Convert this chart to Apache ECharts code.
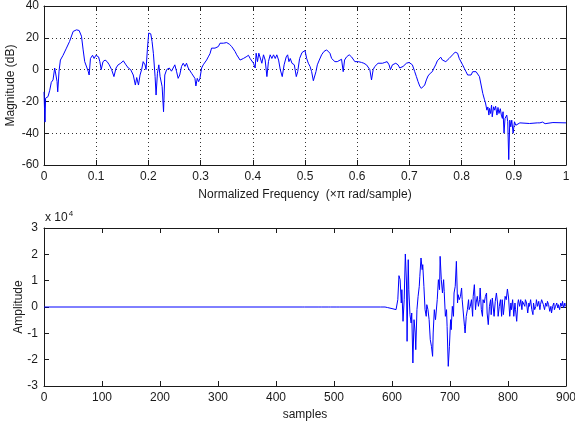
<!DOCTYPE html>
<html>
<head>
<meta charset="utf-8">
<script src="https://cdn.jsdelivr.net/npm/echarts@6/dist/echarts.min.js"></script>
<style>
  html, body { margin: 0; padding: 0; background: #fff; }
  #chart { width: 575px; height: 424px; }
</style>
</head>
<body>
<div id="chart"></div>
<script>
// top plot: magnitude response
const freq = [
  0, 0.001, 0.002, 0.003, 0.0045, 0.0077, 0.011, 0.014, 0.0173, 0.0205, 0.0224, 0.025, 0.0263, 0.0288,
  0.0314, 0.0365, 0.043, 0.049, 0.0558, 0.0622, 0.0673, 0.0718, 0.075, 0.078, 0.0814, 0.0846, 0.0865,
  0.089, 0.093, 0.096, 0.0994, 0.102, 0.1045, 0.107, 0.1096, 0.113, 0.117, 0.121, 0.125, 0.1295, 0.134,
  0.138, 0.142, 0.147, 0.152, 0.157, 0.1615, 0.166, 0.171, 0.175, 0.1776, 0.181, 0.184, 0.187, 0.19,
  0.1936, 0.1955, 0.198, 0.2006, 0.2045, 0.207, 0.2096, 0.2128, 0.2147, 0.2173, 0.22, 0.2224, 0.2244,
  0.2263, 0.229, 0.2314, 0.235, 0.24, 0.2442, 0.2474, 0.2506, 0.2538, 0.257, 0.26, 0.2635, 0.2667, 0.27,
  0.273, 0.2763, 0.2795, 0.2827, 0.2859, 0.2891, 0.291, 0.2936, 0.2962, 0.2987, 0.302, 0.305, 0.3083,
  0.3115, 0.3147, 0.318, 0.321, 0.3244, 0.3276, 0.3308, 0.334, 0.3372, 0.3436, 0.35, 0.355, 0.3596,
  0.366, 0.3692, 0.3724, 0.3756, 0.3788, 0.382, 0.3872, 0.3917, 0.3949, 0.398, 0.4013, 0.4045, 0.4064,
  0.409, 0.4115, 0.414, 0.4173, 0.4205, 0.4237, 0.427, 0.43, 0.4333, 0.4365, 0.4397, 0.443, 0.446,
  0.4494, 0.4526, 0.4564, 0.46, 0.464, 0.4667, 0.4692, 0.4718, 0.475, 0.4795, 0.4833, 0.486, 0.4897,
  0.4942, 0.5, 0.5032, 0.5064, 0.5096, 0.5127, 0.516, 0.5185, 0.521, 0.5236, 0.5274, 0.5318, 0.5363,
  0.5414, 0.5446, 0.5478, 0.551, 0.5541, 0.5573, 0.5618, 0.5656, 0.57, 0.5732, 0.5758, 0.5796, 0.5847,
  0.5892, 0.5924, 0.5955, 0.5987, 0.602, 0.605, 0.6083, 0.6127, 0.6178, 0.621, 0.6242, 0.6274, 0.6306,
  0.6338, 0.637, 0.64, 0.6433, 0.6484, 0.6529, 0.6573, 0.6611, 0.6637, 0.6675, 0.67, 0.6739, 0.6783,
  0.6815, 0.6847, 0.6879, 0.691, 0.6943, 0.6994, 0.702, 0.7057, 0.7102, 0.7134, 0.7166, 0.7197, 0.7229,
  0.7261, 0.7293, 0.7325, 0.7357, 0.74, 0.7439, 0.7471, 0.7503, 0.7535, 0.7568, 0.76, 0.7632, 0.7665,
  0.7697, 0.7729, 0.7761, 0.7794, 0.7839, 0.7877, 0.7923, 0.7955, 0.7987, 0.8019, 0.8052, 0.8084,
  0.8116, 0.8148, 0.8181, 0.8213, 0.8245, 0.8277, 0.831, 0.8342, 0.8374, 0.8406, 0.8439, 0.8458,
  0.8471, 0.8484, 0.8503, 0.8523, 0.8535, 0.8555, 0.8574, 0.8587, 0.8613, 0.8632, 0.8652, 0.8677,
  0.8697, 0.8716, 0.8742, 0.8761, 0.8781, 0.8794, 0.8813, 0.8832, 0.8852, 0.8865, 0.8884, 0.8903,
  0.8923, 0.8942, 0.8961, 0.8987, 0.9013, 0.9039, 0.9116, 0.93, 0.945, 0.95, 0.955, 0.96, 0.975, 1
];
const magDb = [
  -14, -25, -33, -18, -19, -17, -13, -8, -6.5, 1, 0, -7.5, -14, -1,
  6, 9, 13.5, 17.7, 24, 25, 24.6, 21, 12.4, 5, 6, -1, -3.4,
  7, 9, 7, 9, 9.7, 8, 5, 0, 5, 6, 5, 3, 0, -4.4,
  1, 3, 4, 5.5, 3, 1, 0, -3.4, -9.7, -5, -9.7, -3.4, 0, 5,
  3, 0, 12.4, 23, 22.5, 17.7, 10, -4.4, -16, -2.3, 3, -4.4, -5.5,
  -10.7, -26.5, -3.4, 0, 1, -1, 1, 3, -1, -5.5, -3.4, 2, 4, 2,
  4, 1, 0, -2.3, -3.4, -5.5, -10.3, -5.5, -7.6, -5.5, 1, 3, 2,
  6, 8, 10, 13.5, 12.4, 13.5, 12.4, 14.5, 16.6, 16.6, 17, 16, 14.5,
  11.4, 9.3, 8.2, 6, 6, 7, 8, 9, 7, 8, 4, 1, 10.3,
  5, 10.3, 9.3, 4, 9.3, 6, -4.4, 5, 9.3, 7, 9.3, 7, 9.3,
  6, 0, -4.4, 3, 8, 9.3, 5, 7, 4, 3, -4.4, -1.3, 7,
  10.7, 12, 7, 4, 2, -1.3, -7, -7, -1.3, 3, 6, 9.3, 11.4,
  12.4, 12, 10.3, 7, 6, 5, 5, 6, 6.5, -1.3, 6, 8, 9.3,
  8, 7, 5, 4, 5, 4, 4.5, 4, 3, 2, 0, -6.5, 0,
  2, 3, 4, 4.5, 4, 4.5, 5, 3, 0, 3, 2, 4, 3,
  1, 0, 2, 3, 4, 4.5, 4, 3, -1.3, -4.4, -7.6, -10.3, -11.8,
  -11.2, -9.7, -6.5, -4, -2.3, -1.3, 1, 3, 5.5, 6.5, 7.8, 6, 6,
  5, 6, 7, 8, 9.7, 11, 10.3, 7, 6, 3, 0.8, -1.3,
  -3.4, -4.4, -3.4, -1.3, -0.6, -1.3, -2.3, -4.4, -9.7, -15, -19, -21, -22,
  -25.5, -23.5, -28.6, -24.4, -27.6, -22.3, -29.7, -23.4, -25.5, -23, -28.6, -23.8, -27.6,
  -24.6, -28.6, -30.7, -26.5, -40, -30.7, -31.8, -28.6, -32.8, -56.6, -31.8, -36,
  -31.8, -40, -32.8, -35, -33.5, -33.9, -33.5, -33.5, -33, -34, -33.3, -33.5, -33.5
];

// bottom plot: time signal, amplitude in raw units (axis shows x 10^4)
const sampleIdx = [
  0, 445, 447, 449, 474, 476, 478, 490, 492, 494, 505, 507, 509, 580, 588, 590, 592, 600, 607,
  609, 610, 612, 614, 616, 617, 619, 621, 623, 625, 626, 628, 629, 631, 633, 634, 636, 638, 640,
  641, 643, 645, 647, 648, 650, 652, 653, 655, 657, 659, 660, 662, 664, 666, 668, 670, 671, 673,
  675, 676, 678, 680, 682, 683, 685, 687, 689, 690, 692, 694, 695, 697, 699, 701, 702, 704, 706,
  707, 709, 711, 713, 714, 716, 718, 720, 721, 723, 725, 726, 728, 730, 732, 733, 735, 737, 739,
  740, 742, 744, 745, 747, 749, 751, 752, 754, 756, 757, 759, 761, 763, 764, 766, 768, 770, 771,
  773, 775, 776, 778, 780, 782, 783, 785, 787, 789, 790, 792, 794, 795, 797, 799, 801, 803, 805,
  806, 808, 810, 812, 813, 815, 817, 818, 820, 822, 824, 825, 827, 829, 830, 832, 834, 836, 837,
  839, 841, 843, 844, 846, 848, 849, 851, 853, 855, 856, 858, 860, 861, 863, 865, 867, 868, 870,
  872, 874, 875, 877, 879, 880, 882, 884, 886, 887, 889, 891, 893, 894, 896, 898, 899
];
const amplitude = [
  0, 0, 300, 0, 0, 250, 0, 0, -250, 0, 0, 300, 0, 0, 0, 300, -200, -600, -1000,
  -380, 2780, 11900, 10380, 1520, 6580, -5440, 2780, 20130, 9110, -13040, 17970, 6580, -2910, -6080, -2280, -21270, -4810, -9870,
  -16200, -1010, 4050, 7850, 11650, 18610, 14180, 16080, 7850, -1010, -3540, 890, -1010, -4810, -12410, -14940, -18730, -9870, -1010,
  -4810, -2280, 2780, 10380, 6580, 19240, 10380, 5320, 10380, 5950, -3540, -1010, -7340, -22530, -14940, -4810, -8610, 250, -3540,
  5320, 7850, 17340, 1520, 4680, 2780, 4050, 7220, 2780, -2280, -7340, -9870, -3540, -1010, 2780, -1010, 250, 2780, -3540,
  4050, 8480, -1010, 1520, 4050, 250, 2780, 7220, -1010, -3540, 2780, 1520, 4050, 5320, -2280, -6710, 250, 2780, -2910,
  3420, 4050, -3540, 2150, 5320, 1520, -3540, 250, 2780, -3540, 2780, -2910, 1520, 4050, 2780, 6840, 3420, -3540, 1520,
  -1010, 2780, -3540, 1520, -1010, -5440, 1520, 2780, 250, 2780, -1010, 2150, 2780, 250, 2780, 1520, -2280, 1520, 250,
  2780, -1010, -2910, 1520, -1010, 250, 2780, 250, 2150, -1010, 890, 2780, 3420, 890, -1010, 1520, 250, 2150, 890,
  -1650, 250, -2280, 250, 1520, -1010, 250, 1520, -380, 890, -1010, 1520, 250, 2150, -380, 1520, 250
];

const chart = echarts.init(document.getElementById('chart'), null, { renderer: 'canvas' });

const FONT = 'Liberation Sans';
const ink = '#1a1a1a';
const lineBlue = '#0000ff';

const axisText = { color: ink, fontFamily: FONT, fontSize: 12 };
const tickIn = { show: true, inside: true, length: 5, lineStyle: { color: ink } };
const dotted = { show: true, lineStyle: { color: '#333', type: [1, 3], width: 1 } };

// mirror axes on top/right to close the MATLAB-style box
function mirrorX(gridIndex, min, max, interval) {
  return {
    gridIndex, type: 'value', position: 'top', min, max, interval,
    axisLine: { show: true, onZero: false, lineStyle: { color: ink } },
    axisTick: tickIn, axisLabel: { show: false }, splitLine: { show: false }
  };
}
function mirrorY(gridIndex, min, max, interval) {
  return {
    gridIndex, type: 'value', position: 'right', min, max, interval,
    axisLine: { show: true, onZero: false, lineStyle: { color: ink } },
    axisTick: tickIn, axisLabel: { show: false }, splitLine: { show: false }
  };
}

const option = {
  animation: false,
  backgroundColor: '#fff',
  grid: [
    { left: 44, top: 6, width: 522, height: 159, outerBoundsMode: 'none', containLabel: false },
    { left: 44, top: 228, width: 522, height: 158, outerBoundsMode: 'none', containLabel: false }
  ],
  xAxis: [
    {
      gridIndex: 0, type: 'value', min: 0, max: 1, interval: 0.1,
      axisLine: { show: true, onZero: false, lineStyle: { color: ink } },
      axisTick: tickIn, splitLine: dotted,
      axisLabel: Object.assign({ margin: 6 }, axisText),
      name: 'Normalized Frequency  (\u00d7\u03c0 rad/sample)',
      nameLocation: 'middle', nameGap: 24, nameMoveOverlap: false, nameTextStyle: axisText
    },
    mirrorX(0, 0, 1, 0.1),
    {
      gridIndex: 1, type: 'value', min: 0, max: 900, interval: 100,
      axisLine: { show: true, onZero: false, lineStyle: { color: ink } },
      axisTick: tickIn, splitLine: { show: false },
      axisLabel: Object.assign({ margin: 6 }, axisText),
      name: 'samples', nameLocation: 'middle', nameGap: 23, nameMoveOverlap: false, nameTextStyle: axisText
    },
    mirrorX(1, 0, 900, 100)
  ],
  yAxis: [
    {
      gridIndex: 0, type: 'value', min: -60, max: 40, interval: 20,
      axisLine: { show: true, onZero: false, lineStyle: { color: ink } },
      axisTick: tickIn, splitLine: dotted,
      axisLabel: Object.assign({ margin: 5 }, axisText),
      name: 'Magnitude (dB)', nameLocation: 'middle', nameGap: 27, nameMoveOverlap: false, nameTextStyle: axisText
    },
    mirrorY(0, -60, 40, 20),
    {
      gridIndex: 1, type: 'value', min: -30000, max: 30000, interval: 10000,
      axisLine: { show: true, onZero: false, lineStyle: { color: ink } },
      axisTick: tickIn, splitLine: { show: false },
      axisLabel: Object.assign({ margin: 6, formatter: v => String(v / 10000) }, axisText),
      name: 'Amplitude', nameLocation: 'middle', nameGap: 19, nameMoveOverlap: false, nameTextStyle: axisText
    },
    mirrorY(1, -30000, 30000, 10000)
  ],
  graphic: [
    {
      type: 'text', left: 45, top: 210,
      style: {
        text: '{a|x 10}{b|4}',
        rich: {
          a: { fontFamily: FONT, fontSize: 12, fill: ink, verticalAlign: 'bottom' },
          b: { fontFamily: FONT, fontSize: 8, fill: ink, verticalAlign: 'top', padding: [0, 0, 6, 1] }
        }
      }
    }
  ],
  series: [
    {
      type: 'line', xAxisIndex: 0, yAxisIndex: 0, symbol: 'none',
      lineStyle: { color: lineBlue, width: 1 },
      data: freq.map((f, i) => [f, magDb[i]])
    },
    {
      type: 'line', xAxisIndex: 2, yAxisIndex: 2, symbol: 'none',
      lineStyle: { color: lineBlue, width: 1 },
      data: sampleIdx.map((s, i) => [s, amplitude[i]])
    }
  ]
};

chart.setOption(option);
</script>
</body>
</html>
